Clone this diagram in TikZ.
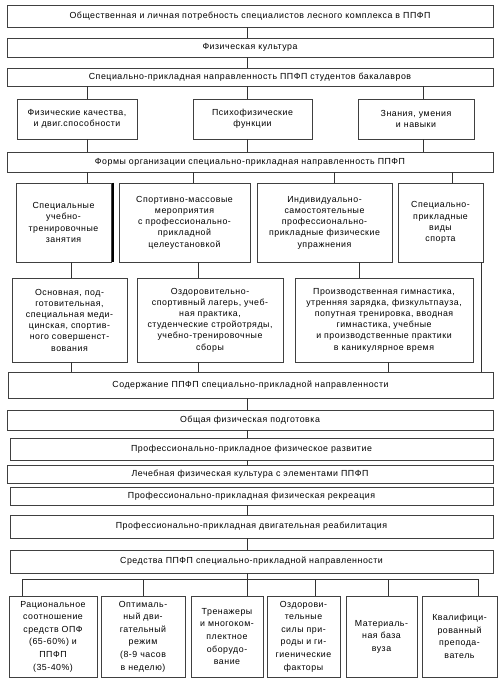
\documentclass[tikz,border=0pt]{standalone}
\usepackage{fontspec}
\setmainfont{Liberation Sans}[LetterSpace=6]
\usetikzlibrary{shadows}
\newcommand{\bx}[6]{%
  \node[boxst, minimum width={(#4-#2)*1pt}, minimum height={(#5-#3)*1pt}] (#1) at ({(#2+#4)/2},{(#3+#5)/2}) {#6};}
\begin{document}
\begin{tikzpicture}[x=1pt,y=-1pt,
  boxst/.style={draw=black!75, line width=0.6pt, fill=white, inner sep=1pt, align=center,
    font=\fontsize{8.8}{11.2}\selectfont,
    general shadow={shadow xshift=1pt, shadow yshift=-1pt, fill=black!40}},
  lowst/.style={font=\fontsize{8.8}{12.6}\selectfont},
  conn/.style={draw=black!80, line width=0.6pt}]
\useasboundingbox (0,0) rectangle (500,682);
\fill[white] (0,0) rectangle (500,682);
\foreach \xx in {22,71,87,113,143,193,198,247,315,334,359,388,423,452,478,481}
  \coordinate (c\xx) at (\xx,0);
\coordinate (bar) at (0,579);

\bx{top}{7}{5}{493}{27}{Общественная и личная потребность специалистов лесного комплекса в ППФП}
\bx{fk}{7}{38}{493}{57}{Физическая культура}
\bx{spn}{7}{68}{493}{86}{Специально-прикладная направленность ППФП студентов бакалавров}
\bx{qa}{17}{99}{137}{139}{Физические качества,\\и двиг.способности}
\bx{qb}{193}{99}{312}{139}{Психофизические\\функции}
\bx{qc}{358}{99}{474}{139}{Знания, умения\\и навыки}
\bx{forms}{7}{152}{493}{172}{Формы организации специально-прикладная направленность ППФП}
\bx{ra}{16}{183}{111}{262}{Специальные\\учебно-\\тренировочные\\занятия}
\bx{rb}{119}{183}{250}{262}{Спортивно-массовые\\мероприятия\\с профессионально-\\прикладной\\целеустановкой}
\bx{rc}{257}{183}{392}{262}{Индивидуально-\\самостоятельные\\профессионально-\\прикладные физические\\упражнения}
\bx{rd}{398}{183}{483}{262}{Специально-\\прикладные\\виды\\спорта}
\bx{ca}{12}{278}{127}{362}{Основная, под-\\готовительная,\\специальная меди-\\цинская, спортив-\\ного совершенст-\\вования}
\bx{cb}{137}{278}{283}{362}{Оздоровительно-\\спортивный лагерь, учеб-\\ная практика,\\студенческие стройотряды,\\учебно-тренировочные\\сборы}
\bx{cc}{295}{278}{473}{362}{Производственная гимнастика,\\утренняя зарядка, физкультпауза,\\попутная тренировка, вводная\\гимнастика, учебные\\и производственные практики\\в каникулярное время}
\bx{sod}{8}{372}{493}{398}{Содержание ППФП специально-прикладной направленности}
\bx{ofp}{7}{410}{493}{430}{Общая физическая подготовка}
\bx{ppr}{10}{438}{493}{460}{Профессионально-прикладное физическое развитие}
\bx{lfk}{7}{465}{493}{483}{Лечебная физическая культура с элементами ППФП}
\bx{rec}{10}{487}{493}{505}{Профессионально-прикладная физическая рекреация}
\bx{reab}{10}{515}{493}{538}{Профессионально-прикладная двигательная реабилитация}
\bx{sred}{10}{550}{493}{573}{Средства ППФП специально-прикладной направленности}
\tikzset{boxst/.append style={lowst}}
\bx{da}{9}{596}{97}{677}{Рациональное\\соотношение\\средств ОПФ\\(65-60\%) и\\ППФП\\(35-40\%)}
\bx{db}{101}{596}{185}{677}{Оптималь-\\ный дви-\\гательный\\режим\\(8-9 часов\\в неделю)}
\bx{dc}{191}{596}{263}{677}{Тренажеры\\и многоком-\\плектное\\оборудо-\\вание}
\bx{dd}{267}{596}{340}{677}{Оздорови-\\тельные\\силы при-\\роды и ги-\\гиенические\\факторы}
\bx{de}{346}{596}{417}{677}{Материаль-\\ная база\\вуза}
\bx{df}{422}{596}{497}{677}{Квалифици-\\рованный\\препода-\\ватель}

% connectors
\draw[conn] (top.south -| c247) -- (fk.north -| c247);
\draw[conn] (fk.south -| c247) -- (spn.north -| c247);
\draw[conn] (spn.south -| c87) -- (qa.north -| c87);
\draw[conn] (spn.south -| c247) -- (qb.north -| c247);
\draw[conn] (spn.south -| c423) -- (qc.north -| c423);
\draw[conn] (qa.south -| c87) -- (forms.north -| c87);
\draw[conn] (qb.south -| c247) -- (forms.north -| c247);
\draw[conn] (qc.south -| c423) -- (forms.north -| c423);
\draw[conn] (forms.south -| c87) -- (ra.north -| c87);
\draw[conn] (forms.south -| c193) -- (rb.north -| c193);
\draw[conn] (forms.south -| c334) -- (rc.north -| c334);
\draw[conn] (forms.south -| c452) -- (rd.north -| c452);
\draw[black, line width=1.1pt] (ra.north -| c113) -- (ra.south -| c113);
\draw[conn] (ra.south -| c71) -- (ca.north -| c71);
\draw[conn] (rb.south -| c198) -- (cb.north -| c198);
\draw[conn] (rc.south -| c359) -- (cc.north -| c359);
\draw[conn] (rd.south -| c481) -- (sod.north -| c481);
\draw[conn] (ca.south -| c71) -- (sod.north -| c71);
\draw[conn] (cb.south -| c198) -- (sod.north -| c198);
\draw[conn] (cc.south -| c388) -- (sod.north -| c388);
\draw[conn] (sod.south -| c247) -- (ofp.north -| c247);
\draw[conn] (ofp.south -| c247) -- (ppr.north -| c247);
\draw[conn] (ppr.south -| c247) -- (lfk.north -| c247);
\draw[conn] (rec.south -| c247) -- (reab.north -| c247);
\draw[conn] (reab.south -| c247) -- (sred.north -| c247);
\draw[conn] (sred.south -| c247) -- (dc.north -| c247);
\draw[conn] (bar -| c22) -- (bar -| c478);
\draw[conn] (bar -| c22) -- (da.north -| c22);
\draw[conn] (bar -| c143) -- (db.north -| c143);
\draw[conn] (bar -| c315) -- (dd.north -| c315);
\draw[conn] (bar -| c388) -- (de.north -| c388);
\draw[conn] (bar -| c478) -- (df.north -| c478);
\end{tikzpicture}
\end{document}
